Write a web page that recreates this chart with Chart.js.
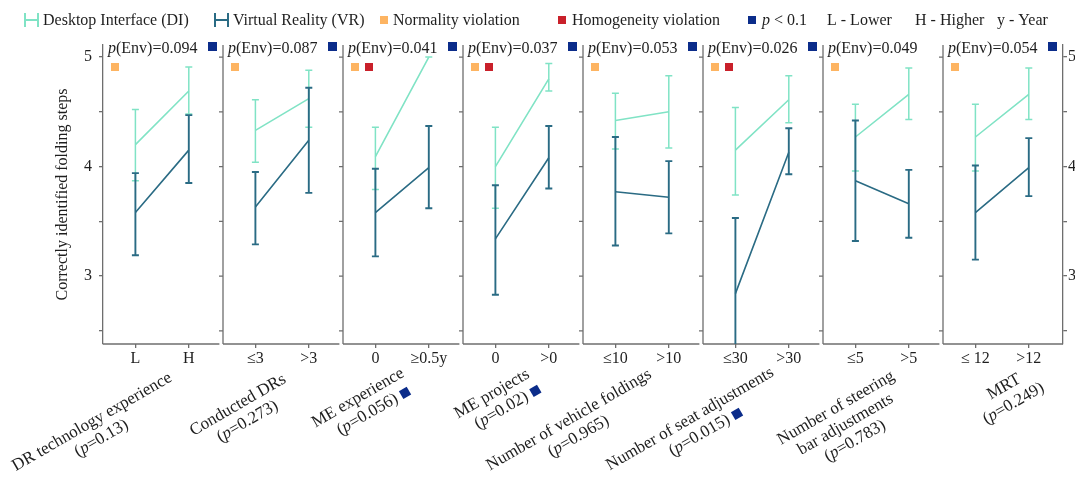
<!DOCTYPE html>
<html>
<head>
<meta charset="utf-8">
<title>Correctly identified folding steps</title>
<script src="https://cdn.jsdelivr.net/npm/chart.js@4.4.1/dist/chart.umd.min.js"></script>
<style>
  html, body { margin: 0; padding: 0; background: #fff; }
  #wrap { width: 1075px; height: 477px; }
</style>
</head>
<body>
<div id="wrap"><canvas id="chart" width="1075" height="477"></canvas></div>
<script>
// Datos
const categories = ['L', 'H', '≤3', '>3', '0', '≥0.5y', '0', '>0', '≤10', '>10', '≤30', '>30', '≤5', '>5', '≤ 12', '>12'];
const panelNames = [
  ['DR technology experience', '(*p*=0.13)'],
  ['Conducted DRs', '(*p*=0.273)'],
  ['ME experience', '(*p*=0.056)'],
  ['ME projects', '(*p*=0.02)'],
  ['Number of vehicle foldings', '(*p*=0.965)'],
  ['Number of seat adjustments', '(*p*=0.015)'],
  ['Number of steering', 'bar adjustments', '(*p*=0.783)'],
  ['MRT', '(*p*=0.249)']
];
const factorSig = [0, 0, 1, 1, 0, 1, 0, 0];
const pEnv = ['0.094', '0.087', '0.041', '0.037', '0.053', '0.026', '0.049', '0.054'];
const envSig = [1, 1, 1, 1, 1, 1, 0, 1];
const normViolation = [1, 1, 1, 1, 1, 1, 1, 1];
const homViolation = [0, 0, 1, 1, 0, 1, 0, 0];

const diMean = [4.20, 4.69, 4.33, 4.62, 4.09, 5.00, 4.00, 4.80, 4.42, 4.50, 4.15, 4.61, 4.27, 4.66, 4.27, 4.66];
const diLow  = [3.87, 4.48, 4.04, 4.36, 3.79, 5.00, 3.62, 4.69, 4.16, 4.17, 3.74, 4.40, 3.96, 4.43, 3.96, 4.43];
const diHigh = [4.52, 4.91, 4.61, 4.88, 4.36, 5.00, 4.36, 4.94, 4.67, 4.83, 4.54, 4.83, 4.57, 4.90, 4.57, 4.90];
const vrMean = [3.58, 4.15, 3.63, 4.24, 3.58, 3.99, 3.34, 4.08, 3.77, 3.72, 2.84, 4.13, 3.87, 3.66, 3.58, 3.99];
const vrLow  = [3.19, 3.85, 3.29, 3.76, 3.18, 3.62, 2.83, 3.80, 3.28, 3.39, 2.15, 3.93, 3.32, 3.35, 3.15, 3.73];
const vrHigh = [3.94, 4.47, 3.95, 4.72, 3.98, 4.37, 3.83, 4.37, 4.27, 4.05, 3.53, 4.35, 4.42, 3.97, 4.01, 4.26];

const yTicks = [2.5, 3, 3.5, 4, 4.5, 5];

// Estilo y disposición
const DI_COLOR = '#80e3c5';
const VR_COLOR = '#2a6b84';
const ORANGE = '#fdb462';
const RED = '#c9202a';
const BLUE = '#0b2c8a';
const AXIS_COLOR = '#6e6e6e';
const TEXT_COLOR = '#1e1e1e';
const FAMILY = '"Liberation Serif", "Times New Roman", serif';
const nPanels = panelNames.length;
const catOffset = [0.27, 0.715];
const panelSpan = 0.97;
// centro de la primera línea de cada etiqueta girada: [dx desde el panel, y]
const labelPos = [[-11, 422], [15, 405], [15, 398], [29, 394], [-14, 420], [-13, 419], [13, 408], [61, 387]];

function font(size, italic) {
  return (italic ? 'italic ' : '') + size + 'px ' + FAMILY;
}

// Texto con la p en cursiva (*p*)
function drawRich(ctx, str, x, y, size, align) {
  const segs = str.split('*').map((t, k) => ({ t, it: k % 2 === 1 })).filter(s => s.t);
  let w = 0;
  segs.forEach(s => { ctx.font = font(size, s.it); s.w = ctx.measureText(s.t).width; w += s.w; });
  let cx = align === 'center' ? x - w / 2 : (align === 'right' ? x - w : x);
  ctx.textAlign = 'left';
  segs.forEach(s => { ctx.font = font(size, s.it); ctx.fillText(s.t, cx, y); cx += s.w; });
  return w;
}

// Series con huecos entre paneles
function buildSeries(means, lows, highs) {
  const pts = [], lo = [], hi = [];
  for (let i = 0; i < nPanels; i++) {
    for (let j = 0; j < 2; j++) {
      const k = i * 2 + j;
      pts.push({ x: i + catOffset[j], y: means[k] });
      lo.push(lows[k]);
      hi.push(highs[k]);
    }
    pts.push({ x: i + 0.99, y: null });
    lo.push(null);
    hi.push(null);
  }
  return { pts, lo, hi };
}

const di = buildSeries(diMean, diLow, diHigh);
const vr = buildSeries(vrMean, vrLow, vrHigh);
const tickPositions = [];
for (let i = 0; i < nPanels; i++) catOffset.forEach(o => tickPositions.push(i + o));

// Barras de error
const errorBars = {
  id: 'errorBars',
  afterDatasetDraw(chart, args) {
    const ds = chart.data.datasets[args.index];
    const { ctx, chartArea: a } = chart;
    const y = chart.scales.y;
    ctx.save();
    ctx.beginPath();
    ctx.rect(a.left, a.top - 2, a.right - a.left, a.bottom - a.top + 2);
    ctx.clip();
    ctx.strokeStyle = ds.borderColor;
    ctx.lineWidth = ds.errWidth;
    args.meta.data.forEach((pt, k) => {
      if (ds.errLow[k] == null) return;
      const px = pt.x;
      const yl = y.getPixelForValue(ds.errLow[k]);
      const yh = y.getPixelForValue(ds.errHigh[k]);
      ctx.beginPath();
      ctx.moveTo(px, yl); ctx.lineTo(px, yh);
      ctx.moveTo(px - 3.5, yl); ctx.lineTo(px + 3.5, yl);
      ctx.moveTo(px - 3.5, yh); ctx.lineTo(px + 3.5, yh);
      ctx.stroke();
    });
    ctx.restore();
  }
};

// Marcos de los paneles
const panelFrames = {
  id: 'panelFrames',
  beforeDatasetsDraw(chart) {
    const { ctx, chartArea: a, scales: { x, y } } = chart;
    ctx.save();
    ctx.strokeStyle = AXIS_COLOR;
    ctx.lineWidth = 1.3;
    for (let i = 0; i < nPanels; i++) {
      const xl = x.getPixelForValue(i);
      if (i > 0) {
        ctx.beginPath();
        ctx.moveTo(xl, a.top); ctx.lineTo(xl, a.bottom);
        yTicks.forEach(v => {
          const py = y.getPixelForValue(v);
          ctx.moveTo(xl - 4, py); ctx.lineTo(xl, py);
        });
        ctx.stroke();
      }
      const xr = i === nPanels - 1 ? x.getPixelForValue(nPanels) : x.getPixelForValue(i + panelSpan);
      ctx.beginPath();
      ctx.moveTo(xl, a.bottom); ctx.lineTo(xr, a.bottom);
      ctx.stroke();
    }
    ctx.restore();
  }
};

// Leyenda, valores p, marcas y etiquetas giradas
const annotations = {
  id: 'annotations',
  afterDraw(chart) {
    const { ctx, scales: { x } } = chart;
    ctx.save();
    ctx.fillStyle = TEXT_COLOR;
    ctx.textBaseline = 'alphabetic';

    // leyenda
    [[25, DI_COLOR], [215, VR_COLOR]].forEach(([lx, c]) => {
      ctx.strokeStyle = c;
      ctx.lineWidth = 2;
      ctx.beginPath();
      ctx.moveTo(lx, 13); ctx.lineTo(lx, 27);
      ctx.moveTo(lx + 13, 13); ctx.lineTo(lx + 13, 27);
      ctx.moveTo(lx, 20); ctx.lineTo(lx + 13, 20);
      ctx.stroke();
    });
    [[380, ORANGE], [558, RED], [748, BLUE]].forEach(([lx, c]) => {
      ctx.fillStyle = c;
      ctx.fillRect(lx, 16, 8, 8);
    });
    ctx.fillStyle = TEXT_COLOR;
    drawRich(ctx, 'Desktop Interface (DI)', 43, 25, 16, 'left');
    drawRich(ctx, 'Virtual Reality (VR)', 233, 25, 16, 'left');
    drawRich(ctx, 'Normality violation', 393, 25, 16, 'left');
    drawRich(ctx, 'Homogeneity violation', 572, 25, 16, 'left');
    drawRich(ctx, '*p* < 0.1', 762, 25, 16, 'left');
    drawRich(ctx, 'L - Lower', 827, 25, 16, 'left');
    drawRich(ctx, 'H - Higher', 915, 25, 16, 'left');
    drawRich(ctx, 'y - Year', 997, 25, 16, 'left');

    for (let i = 0; i < nPanels; i++) {
      const xl = x.getPixelForValue(i);
      ctx.fillStyle = TEXT_COLOR;
      drawRich(ctx, '*p*(Env)=' + pEnv[i], xl + 5, 53, 16, 'left');
      if (envSig[i]) { ctx.fillStyle = BLUE; ctx.fillRect(xl + 105, 42, 9, 9); }
      if (normViolation[i]) { ctx.fillStyle = ORANGE; ctx.fillRect(xl + 8, 63, 8, 8); }
      if (homViolation[i]) { ctx.fillStyle = RED; ctx.fillRect(xl + 22, 63, 8, 8); }

      // etiqueta del factor, girada 30°
      const [dx, cy] = labelPos[i];
      ctx.save();
      ctx.translate(xl + dx, cy);
      ctx.rotate(-Math.PI / 6);
      ctx.textBaseline = 'middle';
      ctx.fillStyle = TEXT_COLOR;
      let lastW = 0;
      panelNames[i].forEach((line, k) => {
        lastW = drawRich(ctx, line, 0, k * 19, 17, 'center');
      });
      if (factorSig[i]) {
        const ly = (panelNames[i].length - 1) * 19;
        ctx.fillStyle = BLUE;
        ctx.fillRect(lastW / 2 + 5, ly - 4.5, 9, 9);
      }
      ctx.restore();
    }
    ctx.restore();
  }
};

Chart.defaults.color = TEXT_COLOR;
Chart.defaults.font.family = FAMILY;

new Chart(document.getElementById('chart'), {
  type: 'line',
  data: {
    datasets: [
      {
        label: 'Desktop Interface (DI)',
        data: di.pts,
        errLow: di.lo,
        errHigh: di.hi,
        errWidth: 1.5,
        borderColor: DI_COLOR,
        borderWidth: 1.6,
        order: 2
      },
      {
        label: 'Virtual Reality (VR)',
        data: vr.pts,
        errLow: vr.lo,
        errHigh: vr.hi,
        errWidth: 1.9,
        borderColor: VR_COLOR,
        borderWidth: 1.6,
        order: 1
      }
    ]
  },
  options: {
    responsive: false,
    animation: false,
    events: [],
    spanGaps: false,
    elements: { point: { radius: 0, hoverRadius: 0 }, line: { tension: 0 } },
    layout: { padding: { top: 45, left: 0, right: 0, bottom: 0 } },
    plugins: { legend: { display: false }, tooltip: { enabled: false } },
    scales: {
      x: {
        type: 'linear',
        min: 0,
        max: nPanels,
        afterBuildTicks: s => { s.ticks = tickPositions.map(v => ({ value: v })); },
        afterFit: s => { s.height = 133; },
        border: { display: false },
        grid: { drawOnChartArea: false, tickLength: 4, color: AXIS_COLOR, lineWidth: 1.3 },
        ticks: {
          autoSkip: false,
          maxRotation: 0,
          minRotation: 0,
          padding: 1,
          font: { size: 16 },
          callback: (v, i) => categories[i]
        }
      },
      y: {
        position: 'left',
        min: 2.38,
        max: 5.11,
        afterBuildTicks: s => { s.ticks = yTicks.map(v => ({ value: v })); },
        afterFit: s => { s.width = 103; },
        border: { color: AXIS_COLOR, width: 1.3 },
        grid: { drawOnChartArea: false, tickLength: 4, color: AXIS_COLOR, lineWidth: 1.3 },
        ticks: { padding: 7, font: { size: 16 }, callback: v => Number.isInteger(v) ? String(v) : '' },
        title: {
          display: true,
          text: 'Correctly identified folding steps',
          font: { size: 16 },
          padding: { top: 53, bottom: 0 }
        }
      },
      y2: {
        display: true,
        position: 'right',
        min: 2.38,
        max: 5.11,
        afterBuildTicks: s => { s.ticks = yTicks.map(v => ({ value: v })); },
        afterFit: s => { s.width = 12; },
        border: { color: AXIS_COLOR, width: 1.3 },
        grid: { drawOnChartArea: false, tickLength: 4, color: AXIS_COLOR, lineWidth: 1.3 },
        ticks: { padding: 1, font: { size: 16 }, callback: v => Number.isInteger(v) ? String(v) : '' }
      }
    }
  },
  plugins: [panelFrames, errorBars, annotations]
});
</script>
</body>
</html>
